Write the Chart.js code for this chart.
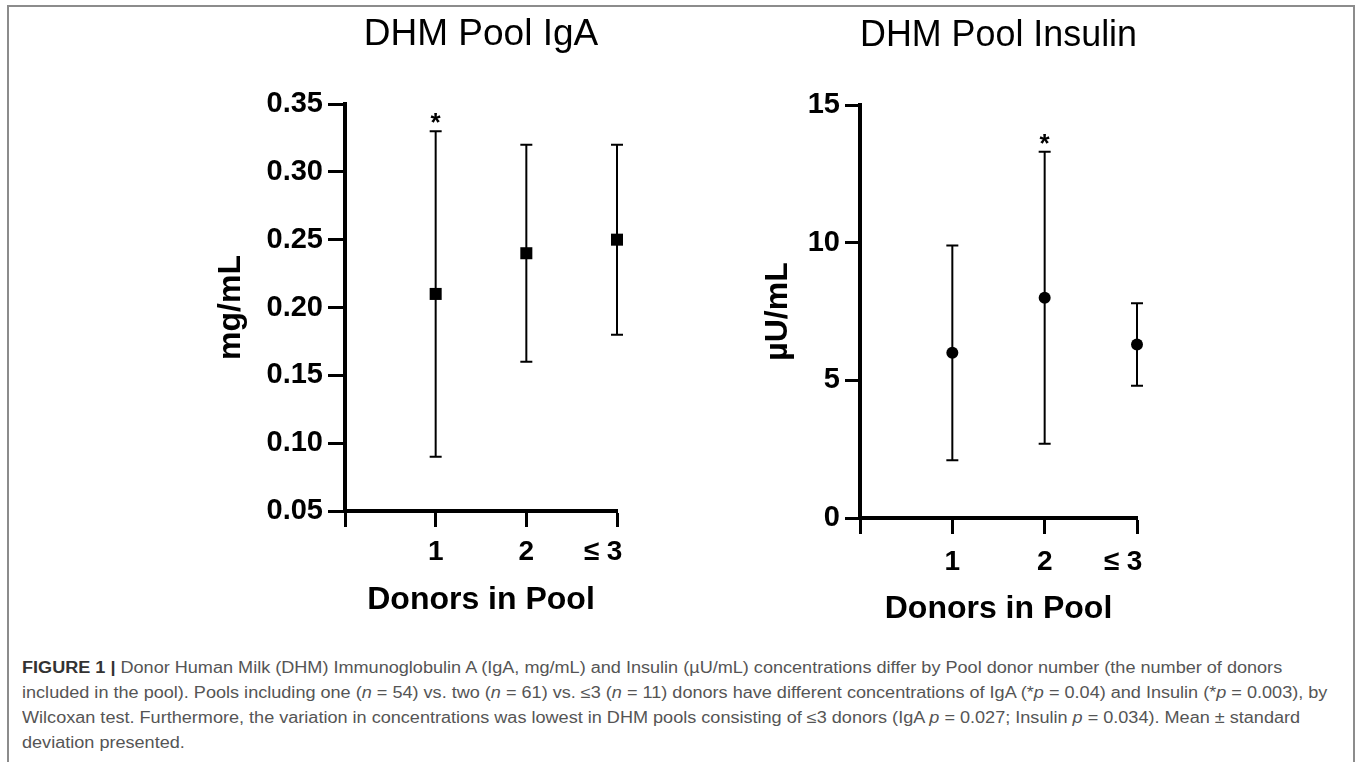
<!DOCTYPE html>
<html>
<head>
<meta charset="utf-8">
<script src="https://cdn.jsdelivr.net/npm/chart.js@4.4.1/dist/chart.umd.min.js"></script>
<style>
  body { margin: 0; background: #fff; width: 1357px; height: 762px; overflow: hidden; position: relative; font-family: "Liberation Sans", Arial, sans-serif; }
  #frame { position: absolute; left: 7px; top: 5px; width: 1344px; height: 800px; border: 2px solid #8c8c8c; }
  .panel { position: absolute; top: 0; }
  #igaChart { left: 150px; }
  #insChart { left: 700px; }
  #caption { position: absolute; left: 22px; top: 655px; font-size: 16px; line-height: 25px; color: #555; white-space: nowrap; transform: scaleX(1.13); transform-origin: 0 0; }
  #caption b { color: #333; }
</style>
</head>
<body>
<div id="frame"></div>
<canvas id="igaChart" class="panel" width="520" height="640"></canvas>
<canvas id="insChart" class="panel" width="520" height="640"></canvas>
<div id="caption">
<b>FIGURE 1 |</b> Donor Human Milk (DHM) Immunoglobulin A (IgA, mg/mL) and Insulin (&micro;U/mL) concentrations differ by Pool donor number (the number of donors<br>
included in the pool). Pools including one (<i>n</i> = 54) vs. two (<i>n</i> = 61) vs. &le;3 (<i>n</i> = 11) donors have different concentrations of IgA (*<i>p</i> = 0.04) and Insulin (*<i>p</i> = 0.003), by<br>
Wilcoxan test. Furthermore, the variation in concentrations was lowest in DHM pools consisting of &le;3 donors (IgA <i>p</i> = 0.027; Insulin <i>p</i> = 0.034). Mean &plusmn; standard<br>
deviation presented.
</div>
<script>
// donor groups
const donorLabels = ['1', '2', '\u2264 3'];
const donorX = [1, 2, 3];

// IgA, mg/mL (mean, mean-SD, mean+SD)
const igaMean = [0.21, 0.24, 0.25];
const igaLow = [0.09, 0.16, 0.18];
const igaHigh = [0.33, 0.32, 0.32];
const igaStar = [true, false, false];

// Insulin, uU/mL
const insMean = [6.0, 8.0, 6.3];
const insLow = [2.1, 2.7, 4.8];
const insHigh = [9.9, 13.3, 7.8];
const insStar = [false, true, false];

const FONT = '"Liberation Sans", Arial, sans-serif';

function errorBarPlugin(low, high, star) {
  return {
    id: 'errorBars',
    beforeDatasetsDraw(chart) {
      const ctx = chart.ctx;
      const x = chart.scales.x, y = chart.scales.y;
      ctx.save();
      ctx.strokeStyle = '#000';
      ctx.fillStyle = '#000';
      ctx.lineWidth = 2;
      donorX.forEach((d, i) => {
        const px = x.getPixelForValue(d);
        const top = y.getPixelForValue(high[i]);
        const bot = y.getPixelForValue(low[i]);
        ctx.beginPath();
        ctx.moveTo(px, top); ctx.lineTo(px, bot);
        ctx.moveTo(px - 6, top); ctx.lineTo(px + 6, top);
        ctx.moveTo(px - 6, bot); ctx.lineTo(px + 6, bot);
        ctx.stroke();
        if (star[i]) {
          ctx.font = 'bold 26px ' + FONT;
          ctx.textAlign = 'center';
          ctx.textBaseline = 'alphabetic';
          ctx.fillText('*', px, top);
        }
      });
      ctx.restore();
    }
  };
}

function makePanel(id, c) {
  return new Chart(document.getElementById(id), {
    type: 'scatter',
    data: {
      datasets: [{
        data: donorX.map((d, i) => ({ x: d, y: c.mean[i] })),
        pointStyle: c.marker,
        pointRadius: c.radius,
        backgroundColor: '#000',
        borderColor: '#000',
        borderWidth: 0,
        clip: false
      }]
    },
    options: {
      responsive: false,
      animation: false,
      events: [],
      layout: { padding: { left: 0, right: c.padRight, top: 0, bottom: 0 } },
      plugins: {
        legend: { display: false },
        tooltip: { enabled: false },
        title: {
          display: true,
          text: c.title,
          fullSize: false,
          color: '#000',
          font: { family: FONT, size: 37, weight: 'normal' },
          padding: { top: c.titleTop, bottom: c.titleBottom }
        }
      },
      scales: {
        x: {
          type: 'linear',
          min: 0,
          max: 3,
          afterFit(s) { s.height = c.xHeight; },
          border: { display: true, color: '#000', width: 4 },
          grid: { drawOnChartArea: false, drawTicks: true, tickLength: 16, tickWidth: 3, tickColor: '#000' },
          ticks: {
            stepSize: 1,
            autoSkip: false,
            maxRotation: 0,
            padding: c.xTickPad,
            color: '#000',
            font: { family: FONT, size: 28, weight: 'bold' },
            callback: v => v >= 1 ? donorLabels[v - 1] + (v === 3 ? '\u2002\u2002' : '') : ''
          },
          title: {
            display: true,
            text: 'Donors in Pool',
            color: '#000',
            font: { family: FONT, size: 32, weight: 'bold' },
            padding: { top: 0, bottom: c.xTitlePad }
          }
        },
        y: {
          min: c.yMin,
          max: c.yMax,
          afterFit(s) { s.width = c.yWidth; },
          border: { display: true, color: '#000', width: 4 },
          grid: { drawOnChartArea: false, drawTicks: true, tickLength: c.yTickLen, tickWidth: 3, tickColor: '#000' },
          ticks: {
            stepSize: c.yStep,
            padding: 5,
            color: '#000',
            font: { family: FONT, size: 29, weight: 'bold' },
            callback: v => v.toFixed(c.decimals)
          },
          title: {
            display: true,
            text: c.yTitle,
            color: '#000',
            font: { family: FONT, size: 32, weight: 'bold' },
            padding: { top: c.yTitlePad, bottom: 0 }
          }
        }
      }
    },
    plugins: [errorBarPlugin(c.low, c.high, c.star)]
  });
}

makePanel('igaChart', {
  title: 'DHM Pool IgA', yTitle: 'mg/mL',
  mean: igaMean, low: igaLow, high: igaHigh, star: igaStar,
  marker: 'rect', radius: 8.5,
  yMin: 0.05, yMax: 0.35, yStep: 0.05, decimals: 2,
  padRight: 53, yWidth: 195, yTickLen: 17, xHeight: 129,
  xTickPad: 8, xTitlePad: 21, yTitlePad: 62, titleTop: 13, titleBottom: 46.6
});

makePanel('insChart', {
  title: 'DHM Pool Insulin', yTitle: '\u00b5U/mL',
  mean: insMean, low: insLow, high: insHigh, star: insStar,
  marker: 'circle', radius: 6,
  yMin: 0, yMax: 15, yStep: 5, decimals: 0,
  padRight: 83, yWidth: 160, yTickLen: 15, xHeight: 122,
  xTickPad: 11, xTitlePad: 12, yTitlePad: 59, titleTop: 14, titleBottom: 46.6
});
</script>
</body>
</html>
